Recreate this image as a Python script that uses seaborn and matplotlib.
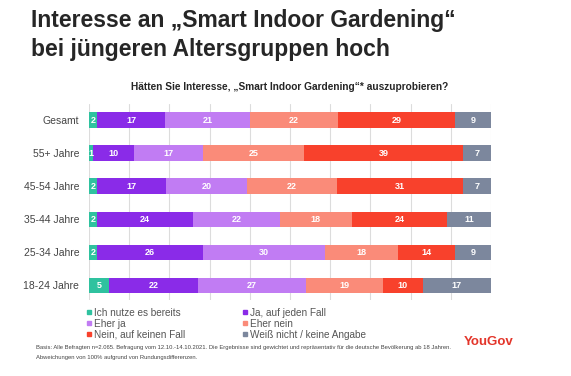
import numpy as np
import pandas as pd
import matplotlib.pyplot as plt
import seaborn as sns

groups = ["Gesamt", "55+ Jahre", "45-54 Jahre", "35-44 Jahre", "25-34 Jahre", "18-24 Jahre"]
answers = ["Ich nutze es bereits", "Ja, auf jeden Fall", "Eher ja",
           "Eher nein", "Nein, auf keinen Fall", "Weiß nicht / keine Angabe"]
nutze = [2, 1, 2, 2, 2, 5]
ja_jeden = [17, 10, 17, 24, 26, 22]
eher_ja = [21, 17, 20, 22, 30, 27]
eher_nein = [22, 25, 22, 18, 18, 19]
nein_keinen = [29, 39, 31, 24, 14, 10]
weiss_nicht = [9, 7, 7, 11, 9, 17]
colors = ["#2fc29f", "#8a2be8", "#c17cf3", "#fa8b79", "#f8412c", "#7c879d"]

vals = np.array([nutze, ja_jeden, eher_ja, eher_nein, nein_keinen, weiss_nicht], dtype=float)
share = vals / vals.sum(axis=0) * 100
cum = share.cumsum(axis=0)

sns.set_style("white")
plt.rcParams["font.family"] = ["Liberation Sans", "DejaVu Sans"]

fig = plt.figure(figsize=(5.71, 3.76), dpi=100)
ax = fig.add_axes([0.156, 0.202, 0.704, 0.521])

# stacked bars: draw cumulative totals from the widest down
for i in range(len(answers) - 1, -1, -1):
    df = pd.DataFrame({"group": groups, "x": cum[i]})
    sns.barplot(data=df, x="x", y="group", orient="h", color=colors[i],
                width=0.46, saturation=1, ax=ax, linewidth=0, zorder=2)

for i in range(len(answers)):
    for j in range(len(groups)):
        center = cum[i, j] - share[i, j] / 2
        ax.text(center, j, f"{int(vals[i, j])}", ha="center", va="center",
                color="white", fontsize=6.5, fontweight="bold", zorder=3)

ax.set_xlim(0, 100)
ax.set_ylim(5.45, -0.48)
ax.set_xticks(np.arange(0, 101, 10))
ax.set_xticklabels([])
ax.xaxis.grid(True, color="#dcdcdc", linewidth=0.8, zorder=0)
ax.set_axisbelow(True)
for s in ax.spines.values():
    s.set_visible(False)
ax.set_xlabel("")
ax.set_ylabel("")
ax.tick_params(axis="y", length=0, pad=7, labelsize=7.5, labelcolor="#444444")
ax.tick_params(axis="x", length=0)

fig.text(0.054, 0.975, "Interesse an „Smart Indoor Gardening“\nbei jüngeren Altersgruppen hoch",
         fontsize=16.5, fontweight="bold", ha="left", va="top", linespacing=1.3)
fig.text(0.508, 0.768, "Hätten Sie Interesse, „Smart Indoor Gardening“* auszuprobieren?",
         fontsize=7.3, fontweight="bold", ha="center", va="center")

handles = [plt.Line2D([], [], marker="s", linestyle="", color=c, markersize=3.5) for c in colors]
order = [0, 2, 4, 1, 3, 5]
ax.legend([handles[k] for k in order], [answers[k] for k in order], ncol=2,
          loc="upper left", bbox_to_anchor=(0.148, 0.182), bbox_transform=fig.transFigure,
          frameon=False, fontsize=7.2, handletextpad=0.1, handlelength=0.8,
          labelspacing=0.1, columnspacing=5.6, borderaxespad=0, borderpad=0,
          labelcolor="#555555")

fig.text(0.063, 0.077, "Basis: Alle Befragten n=2.065. Befragung vom 12.10.-14.10.2021. Die Ergebnisse sind gewichtet und repräsentativ für die deutsche Bevölkerung ab 18 Jahren.",
         fontsize=4.2, color="#444444", ha="left", va="center")
fig.text(0.063, 0.050, "Abweichungen von 100% aufgrund von Rundungsdifferenzen.",
         fontsize=4.2, color="#444444", ha="left", va="center")
fig.text(0.855, 0.09, "YouGov", fontsize=9.5, fontweight="bold", color="#e3352a",
         ha="center", va="center")

fig.savefig("out.png", dpi=100)
